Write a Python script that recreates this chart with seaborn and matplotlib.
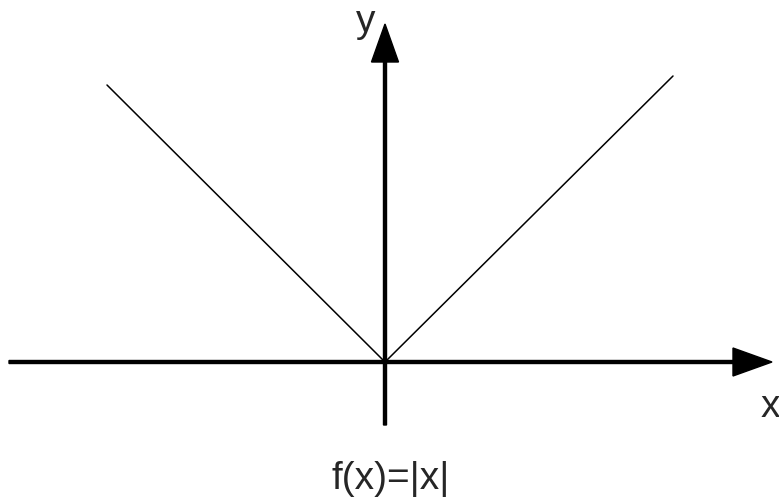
import pandas as pd
import matplotlib.pyplot as plt
import seaborn as sns

# V-shape of f(x) = |x| (units: 1 = 100 px in the reference)
x_vals = [-2.78, 0.0, 2.88]
y_vals = [2.77, 0.0, 2.86]

df = pd.DataFrame({"x": x_vals, "y": y_vals})

sns.set_theme(style="white")
plt.rcParams['font.family'] = ['Liberation Sans', 'DejaVu Sans']

fig = plt.figure(figsize=(7.79, 5.0), dpi=100)
ax = fig.add_axes([0, 0, 1, 1])
ax.set_xlim(-3.85, 3.94)
ax.set_ylim(-1.38, 3.62)
ax.axis('off')

sns.lineplot(data=df, x="x", y="y", sort=False, estimator=None,
             color="black", linewidth=1.1, ax=ax)

# axes with arrow heads
ax.arrow(-3.76, 0, 7.63, 0, width=0.03, head_width=0.28, head_length=0.39,
         length_includes_head=True, color="black")
ax.arrow(0, -0.63, 0, 4.01, width=0.03, head_width=0.27, head_length=0.38,
         length_includes_head=True, color="black")

ax.text(-0.19, 3.30, "y", fontsize=28, ha="center", va="baseline")
ax.text(3.85, -0.55, "x", fontsize=28, ha="center", va="baseline")
ax.text(0.06, -1.27, "f(x)=|x|", fontsize=28, ha="center", va="baseline")

fig.savefig("out.png", dpi=100, facecolor="white")
